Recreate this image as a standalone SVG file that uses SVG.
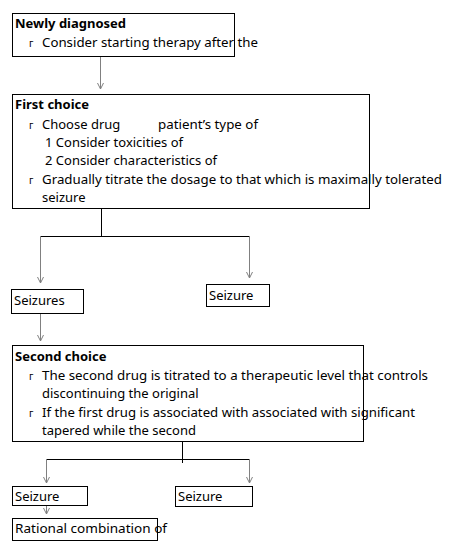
<svg xmlns="http://www.w3.org/2000/svg" width="454" height="549" viewBox="0 0 454 549">
<style>
.box{fill:#fff;stroke:#000;stroke-width:1}
text{font-family:"Noto Sans","Liberation Sans",sans-serif;font-size:13px;fill:#000}
.b{font-weight:bold}
.bul{font-size:10px}
.arr{fill:none;stroke:#808080;stroke-width:1;marker-end:url(#ah)}
.ln{fill:none;stroke:#000;stroke-width:1}
</style>
<defs>
<marker id="ah" markerWidth="8" markerHeight="8" refX="7" refY="4" orient="auto" markerUnits="userSpaceOnUse" viewBox="0 0 8 8">
<path d="M1,1 L7,4 L1,7" fill="none" stroke="#808080" stroke-width="1"/>
</marker>
</defs>
<g id="connectors">
<line class="arr" x1="100.5" y1="56" x2="100.5" y2="89"/>
<polyline class="ln" points="101.5,209 101.5,236.5"/>
<polyline class="ln" points="40.5,236.5 249.5,236.5"/>
<line class="arr" x1="40.5" y1="236.5" x2="40.5" y2="283"/>
<line class="arr" x1="249.5" y1="236.5" x2="249.5" y2="278"/>
<line class="arr" x1="40.5" y1="314" x2="40.5" y2="341"/>
<polyline class="ln" points="182.5,442 182.5,463"/>
<polyline class="ln" points="46.5,459.5 249.5,459.5"/>
<line class="arr" x1="46.5" y1="459.5" x2="46.5" y2="483"/>
<line class="arr" x1="249.5" y1="459.5" x2="249.5" y2="483"/>
<line class="arr" x1="46.5" y1="505" x2="46.5" y2="514"/>
</g>
<g id="newly">
<rect class="box" x="12.5" y="13.5" width="222" height="43"/>
<text class="b" x="15" y="28">Newly diagnosed</text>
<text class="bul" x="29" y="47">г</text>
<text x="42" y="47" textLength="216" lengthAdjust="spacingAndGlyphs">Consider  starting therapy  after the</text>
</g>
<g id="first">
<rect class="box" x="12.5" y="94.5" width="357" height="114"/>
<text class="b" x="15" y="109">First choice</text>
<text class="bul" x="29" y="129">г</text>
<text x="42" y="129">Choose drug</text>
<text x="158" y="129" textLength="100" lengthAdjust="spacingAndGlyphs">patient’s  type of</text>
<text x="45" y="147">1 Consider  toxicities  of</text>
<text x="45" y="165">2 Consider  characteristics  of</text>
<text class="bul" x="29" y="184">г</text>
<text x="42" y="184" textLength="400" lengthAdjust="spacingAndGlyphs">Gradually  titrate the dosage to that which is maximally  tolerated</text>
<text x="42" y="202">seizure</text>
</g>
<g id="seizures1">
<rect class="box" x="11.5" y="289.5" width="72" height="24"/>
<text x="14" y="305">Seizures</text>
</g>
<g id="seizure1r">
<rect class="box" x="206.5" y="284.5" width="63" height="22"/>
<text x="209" y="300">Seizure</text>
</g>
<g id="second">
<rect class="box" x="12.5" y="345.5" width="351" height="96"/>
<text class="b" x="15" y="361">Second choice</text>
<text class="bul" x="29" y="380">г</text>
<text x="42" y="380" textLength="386" lengthAdjust="spacingAndGlyphs">The second drug is titrated  to a therapeutic  level that controls</text>
<text x="42" y="398">discontinuing  the original</text>
<text class="bul" x="29" y="417">г</text>
<text x="42" y="417" textLength="373" lengthAdjust="spacingAndGlyphs">If the first drug is associated  with associated  with significant</text>
<text x="42" y="435">tapered  while the second</text>
</g>
<g id="seizure2l">
<rect class="box" x="12.5" y="486.5" width="75" height="19"/>
<text x="15" y="501">Seizure</text>
</g>
<g id="seizure2r">
<rect class="box" x="175.5" y="486.5" width="77" height="20"/>
<text x="178" y="501">Seizure</text>
</g>
<g id="rational">
<rect class="box" x="12.5" y="518.5" width="145" height="22"/>
<text x="15" y="533" textLength="152" lengthAdjust="spacingAndGlyphs">Rational  combination  of</text>
</g>
</svg>
